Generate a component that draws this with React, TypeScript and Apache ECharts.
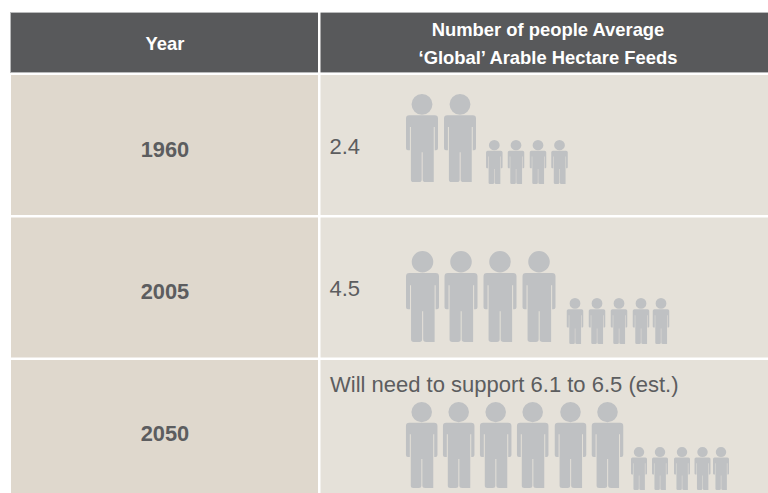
import React, { useEffect, useRef } from "react";
import * as echarts from "echarts";

const WIDTH = 768;
const HEIGHT = 493;

// Table content
const headerYear = "Year";
const headerFeeds = ["Number of people Average", "\u2018Global\u2019 Arable Hectare Feeds"];
const years = ["1960", "2005", "2050"];
const feedLabels = ["2.4", "4.5", "Will need to support 6.1 to 6.5 (est.)"];

// One large figure per whole person, small figures for the fraction
const wholePeople = [2, 4, 6];
const fractionPeople = [4, 5, 5];

// Table geometry in page pixels
const leftEdge = 11;
const splitLeft = 318;
const splitRight = 320.5;
const headerTop = 12;
const headerBottom = 73;
const rowTops = [75, 217.5, 360];
const rowBottoms = [215, 357.5, 493];
const yearCentres = [149, 291, 433];

// Figure placement per row
const largeCentres = [
  [422, 460],
  [422.5, 461, 500, 539],
  [421.7, 458.7, 495.7, 532.7, 570.5, 607.5],
];
const smallCentres = [
  [494.3, 516, 538, 559.5],
  [575, 597, 619, 641, 661],
  [639, 660, 682, 702.5, 721],
];
const largeBox = [
  { top: 94, bottom: 182, w: 32 },
  { top: 251, bottom: 342, w: 33 },
  { top: 402, bottom: 488, w: 31.5 },
];
const smallBox = [
  { top: 140, bottom: 184, w: 16.5 },
  { top: 298, bottom: 344, w: 16.5 },
  { top: 447, bottom: 490, w: 16 },
];
const labelPos = [
  { x: 329.5, y: 146 },
  { x: 329.5, y: 288 },
  { x: 330, y: 384 },
];

const PERSON_PATH =
  "M49 0A32 32 0 1 1 49 64A32 32 0 1 1 49 0Z" +
  "M10 66H88Q98 66 98 76V168Q98 174 92 174H88V102H85V272H60Q51 272 51 264V180H48V264Q48 272 40 272H23Q15 272 15 264V102H12V174H6Q0 174 0 168V76Q0 66 10 66Z";

const GREY_TEXT = "#5c5d5f";
const FONT = "'Liberation Sans', Arial, sans-serif";

type Cell = [number, number, number, number, string];
const cells: Cell[] = [
  // Thin grey rule around the header band, with the white split cut through it
  [leftEdge - 1, headerTop, WIDTH, headerBottom, "#b9babb"],
  [leftEdge, headerTop + 1, WIDTH, headerBottom - 1, "#58595b"],
  [splitLeft, headerTop, splitRight, headerBottom, "#ffffff"],
];
years.forEach((_, i) => {
  cells.push([leftEdge, rowTops[i], splitLeft, rowBottoms[i], "#dfd8cd"]);
  cells.push([splitRight, rowTops[i], WIDTH, rowBottoms[i], "#e5e1d9"]);
});

const people: { value: [number, number]; symbolSize: [number, number] }[] = [];
years.forEach((_, i) => {
  const lb = largeBox[i];
  const sb = smallBox[i];
  largeCentres[i].slice(0, wholePeople[i]).forEach((cx) => {
    people.push({ value: [cx, (lb.top + lb.bottom) / 2], symbolSize: [lb.w, lb.bottom - lb.top] });
  });
  smallCentres[i].slice(0, fractionPeople[i]).forEach((cx) => {
    people.push({ value: [cx, (sb.top + sb.bottom) / 2], symbolSize: [sb.w, sb.bottom - sb.top] });
  });
});

type Caption = [number, number, string, string, number, string, string];
const captions: Caption[] = [
  [165, 43, headerYear, "#ffffff", 18.4, "bold", "center"],
  [548, 29, headerFeeds[0], "#ffffff", 18.4, "bold", "center"],
  [548, 57, headerFeeds[1], "#ffffff", 18.4, "bold", "center"],
];
years.forEach((y, i) => {
  captions.push([165, yearCentres[i], y, GREY_TEXT, 21.8, "bold", "center"]);
  captions.push([labelPos[i].x, labelPos[i].y, feedLabels[i], GREY_TEXT, 22, "normal", "left"]);
});

export default function App() {
  const ref = useRef<HTMLDivElement>(null);

  useEffect(() => {
    document.body.style.margin = "0";
    const chart = echarts.init(ref.current!, undefined, { renderer: "svg" });
    chart.setOption({
      animation: false,
      backgroundColor: "#ffffff",
      grid: { left: 0, right: 0, top: 0, bottom: 0 },
      xAxis: { type: "value", min: 0, max: WIDTH, show: false },
      yAxis: { type: "value", min: 0, max: HEIGHT, inverse: true, show: false },
      series: [
        {
          type: "custom",
          silent: true,
          coordinateSystem: "cartesian2d",
          data: cells.map((c) => c.slice(0, 4)),
          renderItem: (p: any, api: any) => {
            const a = api.coord([api.value(0), api.value(1)]);
            const b = api.coord([api.value(2), api.value(3)]);
            return {
              type: "rect",
              shape: { x: a[0], y: a[1], width: b[0] - a[0], height: b[1] - a[1] },
              style: { fill: cells[p.dataIndex][4] },
            };
          },
          z: 1,
        },
        {
          type: "scatter",
          silent: true,
          symbol: "path://" + PERSON_PATH,
          itemStyle: { color: "#bfc1c3", opacity: 1 },
          data: people,
          z: 2,
        },
        {
          type: "custom",
          silent: true,
          coordinateSystem: "cartesian2d",
          data: captions.map((c) => [c[0], c[1]]),
          renderItem: (p: any, api: any) => {
            const c = captions[p.dataIndex];
            const at = api.coord([c[0], c[1]]);
            return {
              type: "text",
              x: at[0],
              y: at[1],
              style: {
                text: c[2],
                fill: c[3],
                fontSize: c[4],
                fontWeight: c[5],
                fontFamily: FONT,
                align: c[6],
                verticalAlign: "middle",
              },
            };
          },
          z: 3,
        },
      ],
    });
    return () => chart.dispose();
  }, []);

  return <div ref={ref} style={{ width: WIDTH, height: HEIGHT }} />;
}
